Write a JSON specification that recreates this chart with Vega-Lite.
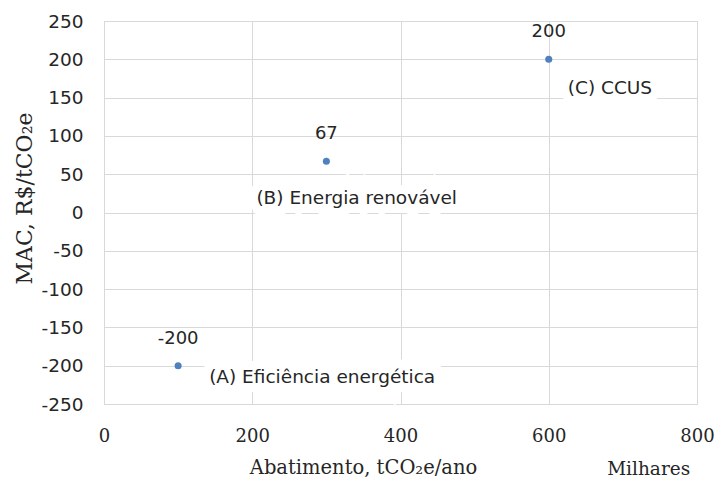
{
  "$schema": "https://vega.github.io/schema/vega-lite/v6.json",
  "width": 593,
  "height": 383,
  "autosize": "none",
  "padding": {"left": 104, "top": 21, "right": 22, "bottom": 75},
  "background": "white",
  "config": {
    "view": {"stroke": "#cfcfcf", "strokeWidth": 1},
    "axis": {"gridColor": "#d9d9d9", "gridWidth": 1, "domain": false, "ticks": false, "labelColor": "#262626", "titleColor": "#262626", "titleFontWeight": "normal"}
  },
  "title": {
    "text": "Milhares",
    "orient": "bottom",
    "anchor": "end",
    "font": "DejaVu Serif",
    "fontSize": 18.5,
    "fontWeight": "normal",
    "color": "#262626",
    "offset": -17,
    "dx": -24
  },
  "data": {
    "values": [
      {"id": "A", "abatimento": 100, "mac": -200, "label": "(A) Eficiência energética"},
      {"id": "B", "abatimento": 300, "mac": 67, "label": "(B) Energia renovável"},
      {"id": "C", "abatimento": 600, "mac": 200, "label": "(C) CCUS"}
    ]
  },
  "encoding": {
    "x": {
      "field": "abatimento",
      "type": "quantitative",
      "scale": {"domain": [0, 800], "nice": false},
      "axis": {
        "values": [0, 200, 400, 600, 800],
        "labelFlush": false,
        "labelFont": "DejaVu Serif",
        "labelFontSize": 18,
        "labelPadding": 23,
        "title": "Abatimento, tCO₂e/ano",
        "titleFont": "DejaVu Serif",
        "titleFontSize": 19.5,
        "titleX": 259,
        "titleY": 63,
        "titleBaseline": "middle",
        "titleAnchor": "middle"
      }
    },
    "y": {
      "field": "mac",
      "type": "quantitative",
      "scale": {"domain": [-250, 250], "nice": false},
      "axis": {
        "values": [-250, -200, -150, -100, -50, 0, 50, 100, 150, 200, 250],
        "labelExpr": "'' + datum.value",
        "labelFlush": false,
        "labelFont": "DejaVu Sans",
        "labelFontSize": 18.5,
        "labelPadding": 21,
        "title": "MAC, R$/tCO₂e",
        "titleFont": "DejaVu Serif",
        "titleFontSize": 22,
        "titleAngle": -90,
        "titleX": -80,
        "titleY": 177,
        "titleBaseline": "middle",
        "titleAlign": "center"
      }
    }
  },
  "layer": [
    {"mark": {"type": "point", "filled": true, "size": 50, "color": "#4f81bd", "opacity": 1}},
    {
      "mark": {"type": "text", "dy": -27, "font": "DejaVu Sans", "fontSize": 18, "color": "#262626", "baseline": "middle"},
      "encoding": {"text": {"field": "mac", "type": "nominal"}}
    },
    {
      "transform": [{"filter": "datum.id == 'A'"}],
      "mark": {"type": "text", "align": "left", "dx": 31, "dy": 11, "font": "DejaVu Sans", "fontSize": 18.5, "color": "white", "stroke": "white", "strokeWidth": 18, "baseline": "middle"},
      "encoding": {"text": {"field": "label"}}
    },
    {
      "transform": [{"filter": "datum.id == 'A'"}],
      "mark": {"type": "text", "align": "left", "dx": 31, "dy": 11, "font": "DejaVu Sans", "fontSize": 18.5, "color": "#262626", "baseline": "middle"},
      "encoding": {"text": {"field": "label"}}
    },
    {
      "transform": [{"filter": "datum.id == 'B'"}],
      "mark": {"type": "text", "align": "left", "dx": -70, "dy": 37, "font": "DejaVu Sans", "fontSize": 18.5, "color": "white", "stroke": "white", "strokeWidth": 18, "baseline": "middle"},
      "encoding": {"text": {"field": "label"}}
    },
    {
      "transform": [{"filter": "datum.id == 'B'"}],
      "mark": {"type": "text", "align": "left", "dx": -70, "dy": 37, "font": "DejaVu Sans", "fontSize": 18.5, "color": "#262626", "baseline": "middle"},
      "encoding": {"text": {"field": "label"}}
    },
    {
      "transform": [{"filter": "datum.id == 'C'"}],
      "mark": {"type": "text", "align": "left", "dx": 19, "dy": 29, "font": "DejaVu Sans", "fontSize": 18.5, "color": "white", "stroke": "white", "strokeWidth": 18, "baseline": "middle"},
      "encoding": {"text": {"field": "label"}}
    },
    {
      "transform": [{"filter": "datum.id == 'C'"}],
      "mark": {"type": "text", "align": "left", "dx": 19, "dy": 29, "font": "DejaVu Sans", "fontSize": 18.5, "color": "#262626", "baseline": "middle"},
      "encoding": {"text": {"field": "label"}}
    }
  ]
}
